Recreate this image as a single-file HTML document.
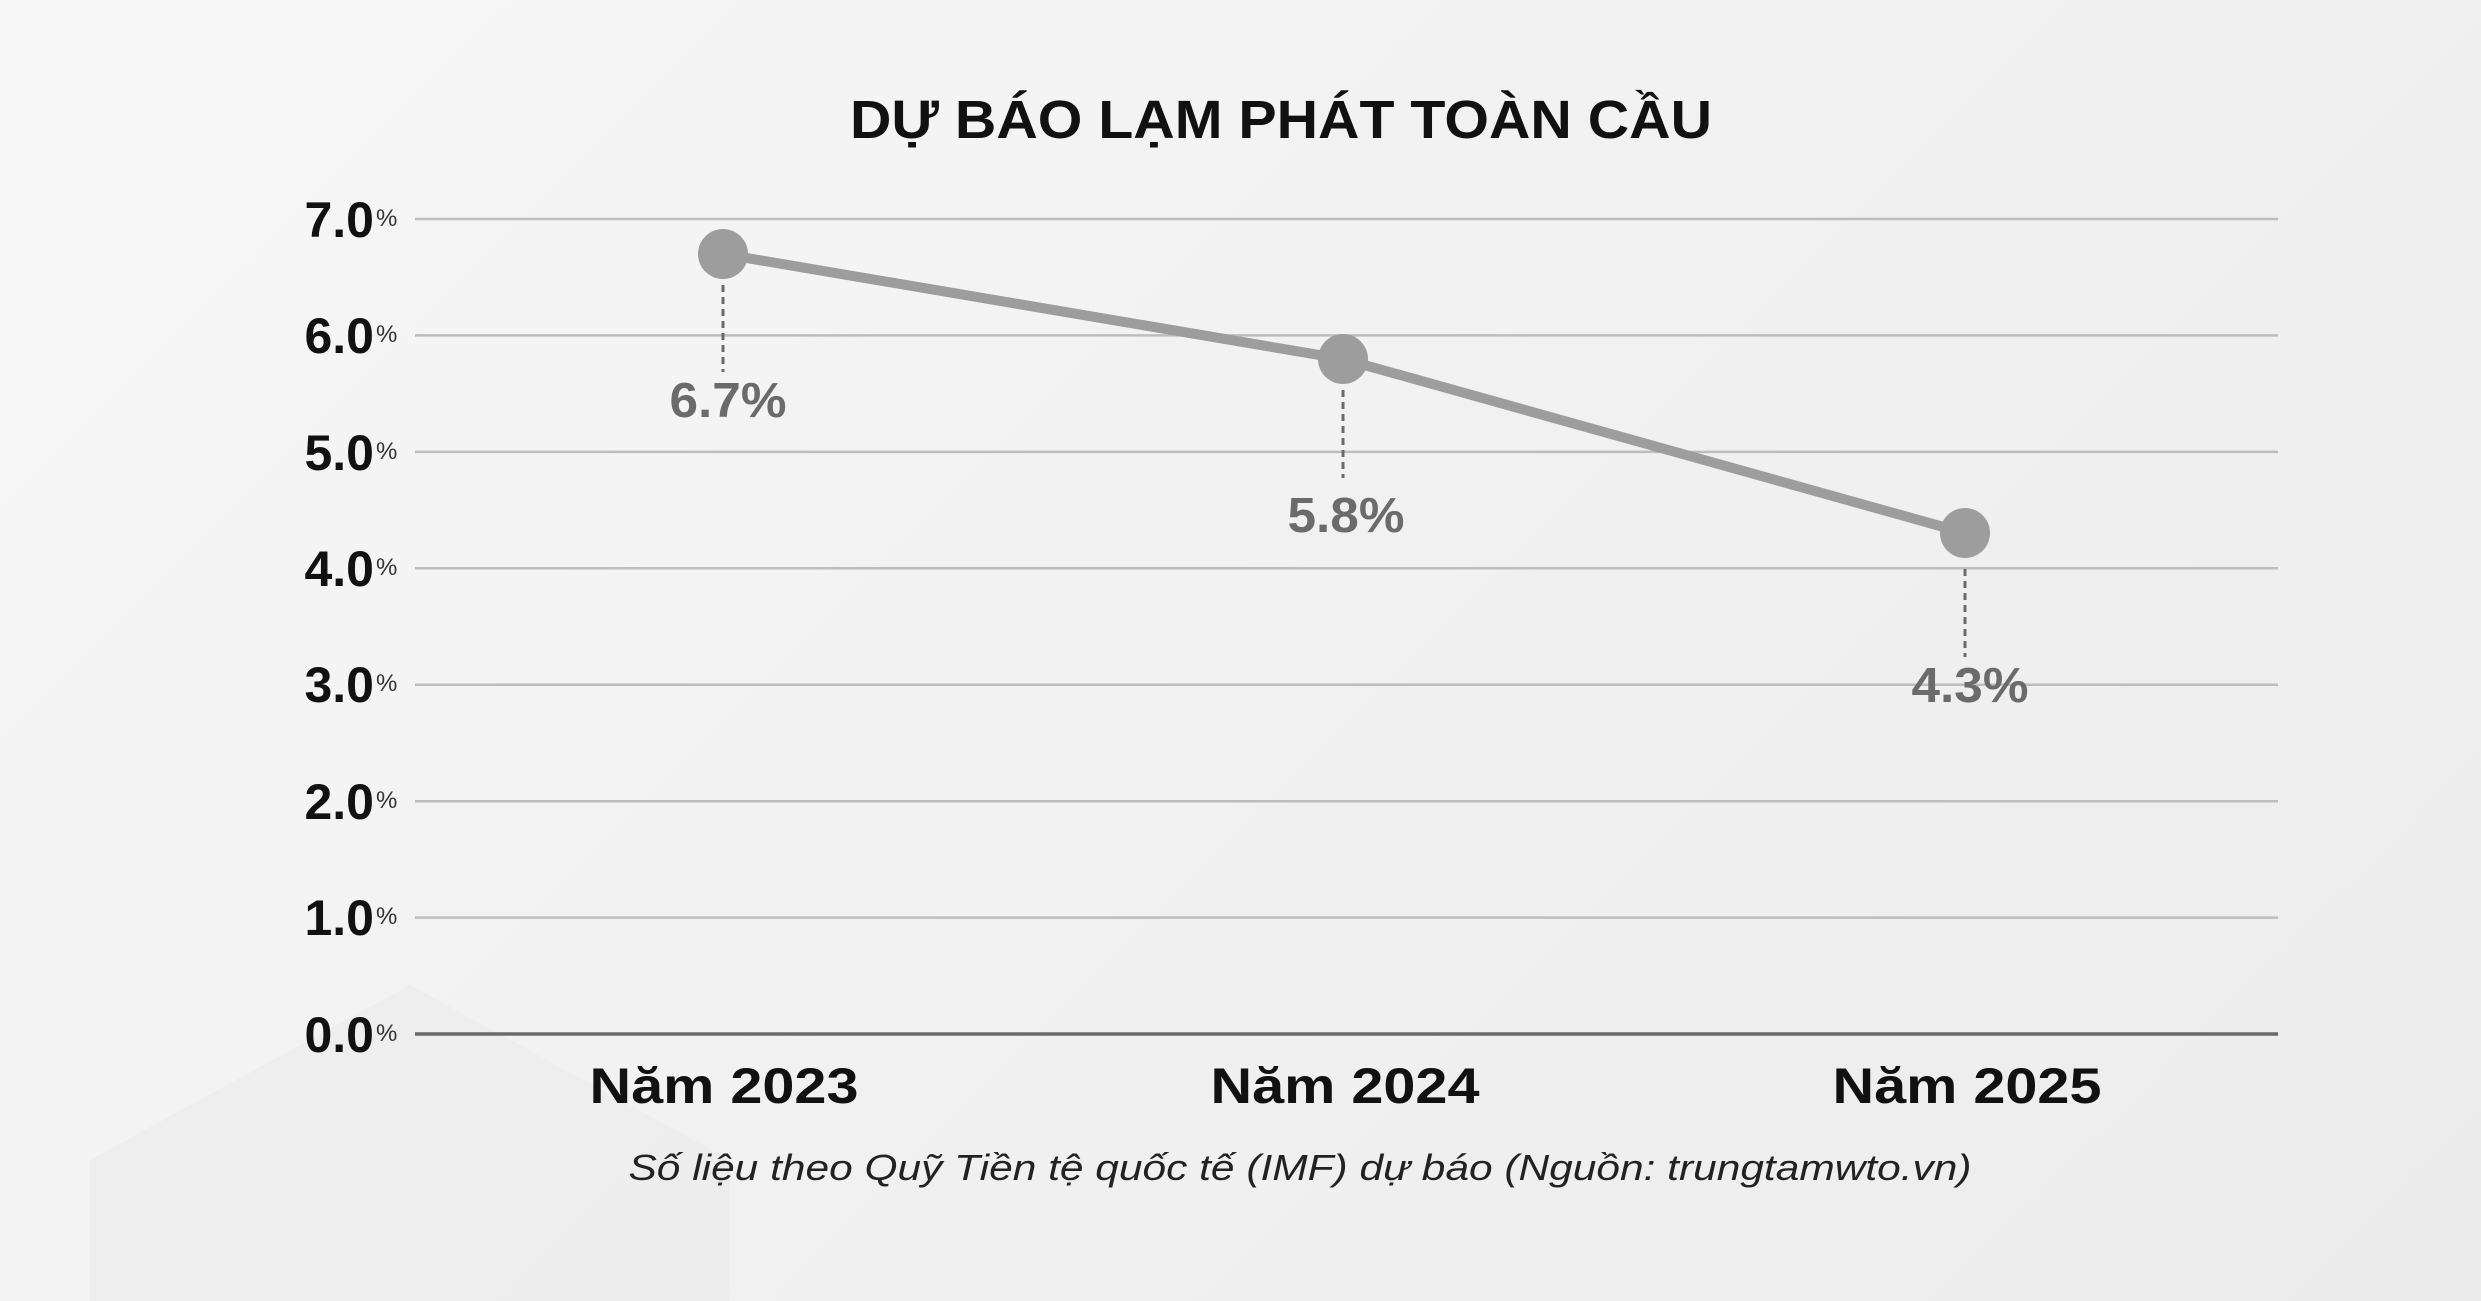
<!DOCTYPE html>
<html><head><meta charset="utf-8"><style>
html,body{margin:0;padding:0;overflow:hidden}
body{width:2481px;height:1301px;overflow:hidden;background:linear-gradient(135deg,#f7f7f7 0%,#f0f0f0 60%,#ececec 100%);}
svg{display:block}
</style></head><body>
<svg width="2481" height="1301" viewBox="0 0 2481 1301" xmlns="http://www.w3.org/2000/svg" font-family="'Liberation Sans', sans-serif" overflow="hidden">
<g fill="#ebebeb" opacity="0.6">
<path d="M90 1301 L90 1160 L410 985 L730 1160 L730 1301 Z"/>
</g>
<text x="1281" y="138" text-anchor="middle" font-size="54" font-weight="bold" fill="#111" textLength="862" lengthAdjust="spacingAndGlyphs">DỰ BÁO LẠM PHÁT TOÀN CẦU</text>
<g stroke="#bdbdbd" stroke-width="2.5">
<line x1="415" x2="2278" y1="219" y2="219"/>
<line x1="415" x2="2278" y1="335.4" y2="335.4"/>
<line x1="415" x2="2278" y1="451.9" y2="451.9"/>
<line x1="415" x2="2278" y1="568.3" y2="568.3"/>
<line x1="415" x2="2278" y1="684.7" y2="684.7"/>
<line x1="415" x2="2278" y1="801.2" y2="801.2"/>
<line x1="415" x2="2278" y1="917.6" y2="917.6"/>
</g>
<line x1="415" x2="2278" y1="1034" y2="1034" stroke="#6a6a6a" stroke-width="3.5"/>
<g font-size="50" font-weight="bold" fill="#111" text-anchor="end">
<text x="374" y="237">7.0</text>
<text x="374" y="353">6.0</text>
<text x="374" y="470">5.0</text>
<text x="374" y="586">4.0</text>
<text x="374" y="702">3.0</text>
<text x="374" y="819">2.0</text>
<text x="374" y="935">1.0</text>
<text x="374" y="1052">0.0</text>
</g>
<g font-size="24" fill="#333">
<text x="376" y="226">%</text><text x="376" y="342">%</text><text x="376" y="459">%</text><text x="376" y="575">%</text>
<text x="376" y="691">%</text><text x="376" y="808">%</text><text x="376" y="924">%</text><text x="376" y="1041">%</text>
</g>
<g stroke="#6a6a6a" stroke-width="3" stroke-dasharray="7,5">
<line x1="723" x2="723" y1="285" y2="372"/>
<line x1="1343" x2="1343" y1="390" y2="478"/>
<line x1="1965" x2="1965" y1="569" y2="657"/>
</g>
<polyline points="723,254 1343,359 1965,533" fill="none" stroke="#9d9d9d" stroke-width="10"/>
<g fill="#9d9d9d">
<circle cx="723" cy="254" r="25"/><circle cx="1343" cy="359" r="25"/><circle cx="1965" cy="533" r="25"/>
</g>
<g font-size="49" font-weight="bold" fill="#6b6b6b" text-anchor="middle">
<text x="728" y="417" textLength="117" lengthAdjust="spacingAndGlyphs">6.7%</text>
<text x="1346" y="532" textLength="117" lengthAdjust="spacingAndGlyphs">5.8%</text>
<text x="1970" y="702" textLength="117" lengthAdjust="spacingAndGlyphs">4.3%</text>
</g>
<g font-size="50" font-weight="bold" fill="#111" text-anchor="middle">
<text x="724" y="1103" textLength="269" lengthAdjust="spacingAndGlyphs">Năm 2023</text>
<text x="1345" y="1103" textLength="269" lengthAdjust="spacingAndGlyphs">Năm 2024</text>
<text x="1967" y="1103" textLength="269" lengthAdjust="spacingAndGlyphs">Năm 2025</text>
</g>
<text x="1300" y="1180" text-anchor="middle" font-size="36" font-style="italic" fill="#222" textLength="1343" lengthAdjust="spacingAndGlyphs">Số liệu theo Quỹ Tiền tệ quốc tế (IMF) dự báo (Nguồn: trungtamwto.vn)</text>
</svg>
</body></html>
